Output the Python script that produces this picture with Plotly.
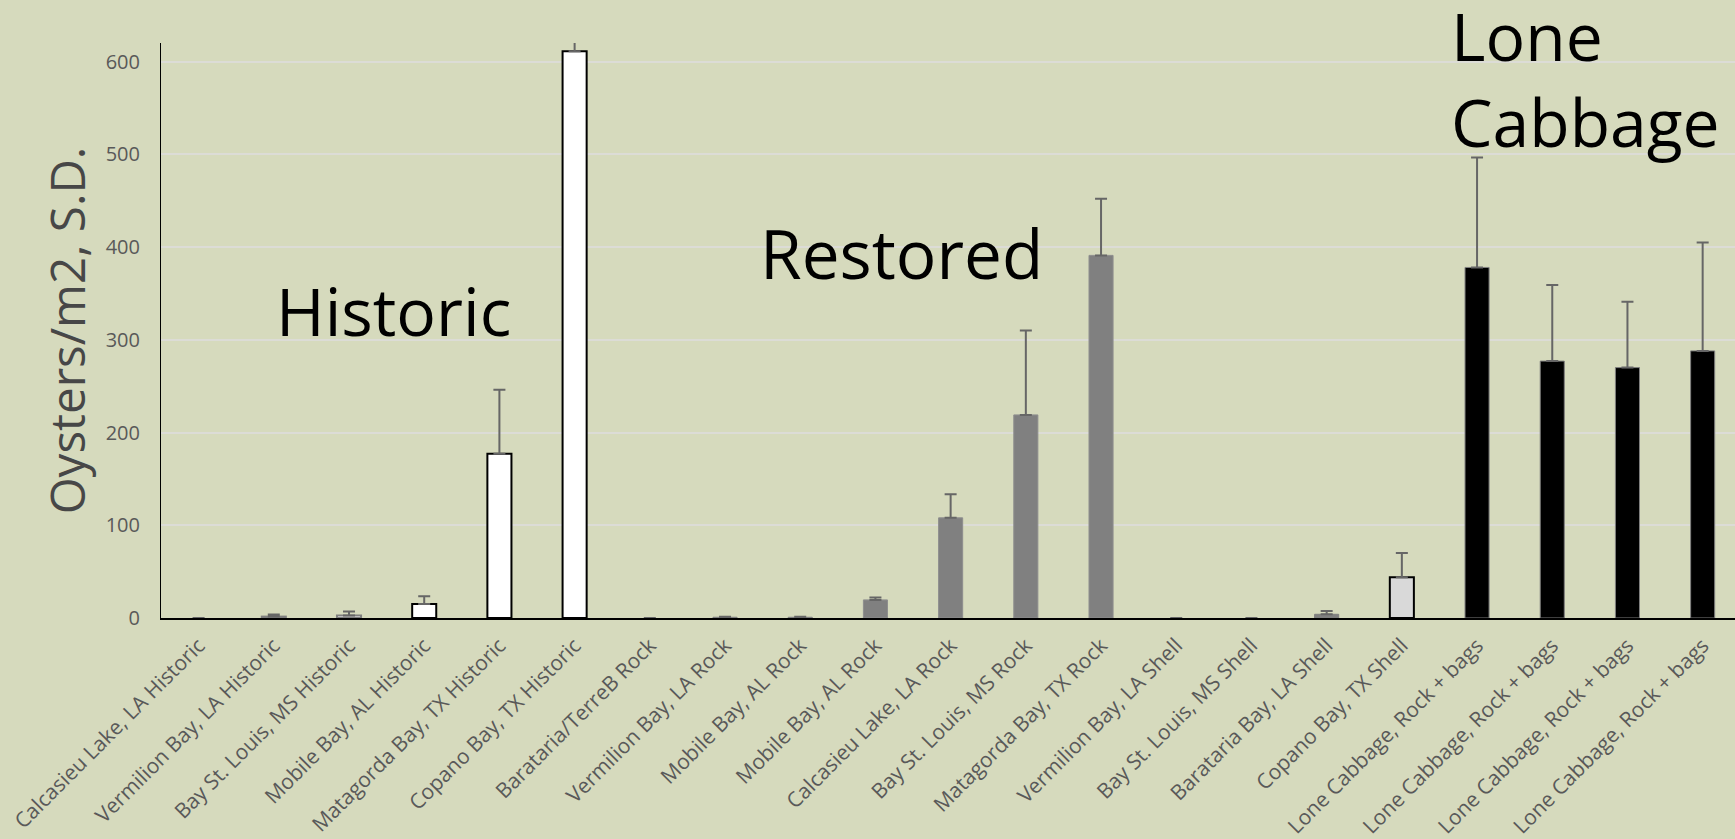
import plotly.graph_objects as go

categories = [
    "Calcasieu Lake, LA Historic", "Vermilion Bay, LA Historic", "Bay St. Louis, MS Historic",
    "Mobile Bay, AL Historic", "Matagorda Bay, TX Historic", "Copano Bay, TX Historic",
    "Barataria/TerreB Rock", "Vermilion Bay, LA Rock", "Mobile Bay, AL Rock", "Mobile Bay, AL Rock",
    "Calcasieu Lake, LA Rock", "Bay St. Louis, MS Rock", "Matagorda Bay, TX Rock",
    "Vermilion Bay, LA Shell", "Bay St. Louis, MS Shell", "Barataria Bay, LA Shell",
    "Copano Bay, TX Shell", "Lone Cabbage, Rock + bags", "Lone Cabbage, Rock + bags",
    "Lone Cabbage, Rock + bags", "Lone Cabbage, Rock + bags",
]
means = [0, 1.5, 2.6, 15, 177, 611, 0, 0.8, 0.8, 19.5, 108, 219, 391, 0, 0, 4, 44, 378, 277, 270, 288]
sds = [0, 2.2, 4.3, 8.5, 69, 12, 0, 0.6, 0.6, 2.5, 25.5, 91, 61, 0, 0, 3.5, 26, 118.5, 82, 71, 117]
groups = ["historic"] * 6 + ["restored"] * 7 + ["restored"] * 2 + ["restored", "shell"] + ["lone"] * 4

group_labels = ["Historic", "Restored", "Lone<br>Cabbage"]

style = {
    "historic": dict(fill="#FFFFFF", line="#000000", lw=2),
    "restored": dict(fill="#808080", line="#8E8E8E", lw=1),
    "shell": dict(fill="#D9D9D9", line="#000000", lw=2),
    "lone": dict(fill="#000000", line="#7F7F7F", lw=1),
}

fills = [style[g]["fill"] for g in groups]
lines = [style[g]["line"] if m >= 5 else "#7F7F7F" for g, m in zip(groups, means)]
lws = [style[g]["lw"] if m > 0 else 0 for g, m in zip(groups, means)]

x = list(range(len(categories)))

fig = go.Figure()
fig.add_trace(go.Bar(
    x=x, y=means, width=0.32,
    marker=dict(color=fills, line=dict(color=lines, width=lws)),
    error_y=dict(type="data", symmetric=False, array=sds, arrayminus=[0] * len(sds),
                 color="#666666", thickness=2, width=6),
    showlegend=False,
))

FONT = "Open Sans"
fig.update_layout(
    width=1735, height=839,
    paper_bgcolor="#D6DABD", plot_bgcolor="#D6DABD",
    margin=dict(l=161, r=0, t=43, b=221),
    font=dict(family=FONT, color="#595959"),
    xaxis=dict(
        range=[-0.5, 20.43], tickmode="array", tickvals=x, ticktext=categories,
        tickangle=-45, tickfont=dict(size=21, color="#595959", family=FONT),
        showline=True, linecolor="#000000", linewidth=2, showgrid=False, ticks="",
        zeroline=False, ticklabelstandoff=5, automargin=False,
    ),
    yaxis=dict(
        range=[0, 620], tickvals=[0, 100, 200, 300, 400, 500, 600],
        tickfont=dict(size=20, color="#595959", family=FONT),
        showline=True, linecolor="#000000", linewidth=1, showgrid=True,
        gridcolor="#DCDCD6", gridwidth=1.5, zeroline=False, ticks="",
        ticklabelstandoff=16, automargin=False,
        title=dict(text="Oysters/m2, S.D.", font=dict(size=47.5, color="#474747", family=FONT), standoff=5),
    ),
)

ann_pos = [(2.585, 332, "center", 66), (9.34, 394, "center", 67.5), (16.63, 582.5, "left", 66)]
for (ax, ay, anc, fs), txt in zip(ann_pos, group_labels):
    fig.add_annotation(x=ax, y=ay, xref="x", yref="y", text=txt, showarrow=False,
                       xanchor=anc, yanchor="middle", align="left",
                       font=dict(size=fs, color="#000000", family=FONT))

fig.write_html("out.html")
